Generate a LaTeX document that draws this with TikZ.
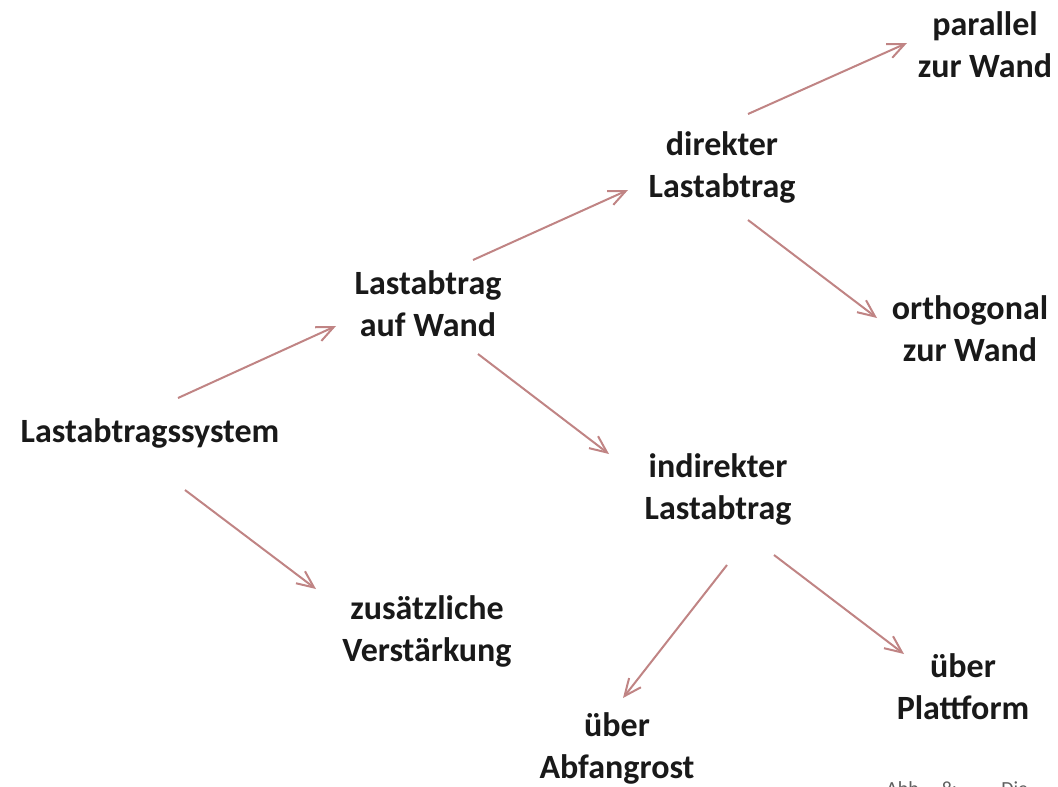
\documentclass[tikz,border=0pt]{standalone}
\usepackage{fontspec}
\setmainfont{Carlito}
\usetikzlibrary{arrows.meta}
\definecolor{arrcol}{RGB}{192,132,132}
\definecolor{capcol}{RGB}{95,95,95}
\tikzset{
  lbl/.style={font=\fontsize{34}{42}\selectfont\bfseries, align=center, inner sep=0pt, text=black!90},
  arr/.style={draw=arrcol, line width=2pt, -{Straight Barb[length=17pt,width=15pt,line width=2pt]}},
  captext/.style={font=\fontsize{20}{24}\selectfont, text=capcol, inner sep=0pt, anchor=north west}
}
\begin{document}
\begin{tikzpicture}[x=1pt,y=-1pt]
\useasboundingbox (0,0) rectangle (1058,787);
\clip (0,0) rectangle (1058,787);
\node[lbl] (sys) at (150,433) {Lastabtragssystem};
\node[lbl] (wand) at (428,304) {Lastabtrag\\auf Wand};
\node[lbl] (dir) at (722,167) {direkter\\Lastabtrag};
\node[lbl] (par) at (985,45) {parallel\\zur Wand};
\node[lbl] (orth) at (970,329) {orthogonal\\zur Wand};
\node[lbl] (ind) at (718,489) {indirekter\\Lastabtrag};
\node[lbl] (zus) at (427,631) {zusätzliche\\Verstärkung};
\node[lbl] (abf) at (617,748) {über\\Abfangrost};
\node[lbl] (plat) at (963,687) {über\\Plattform};
\node[captext] (caption) at (886,781) {Abb.\hspace{18pt}8:\hspace{44pt}Die};

\draw[arr] ([shift={(28,-35)}]sys.center) -- ([shift={(-92,22)}]wand.center);
\draw[arr] ([shift={(35,57)}]sys.center) -- ([shift={(-111,-42)}]zus.center);
\draw[arr] ([shift={(45,-44)}]wand.center) -- ([shift={(-94,23)}]dir.center);
\draw[arr] ([shift={(50,50)}]wand.center) -- ([shift={(-109,-35)}]ind.center);
\draw[arr] ([shift={(26,-53)}]dir.center) -- ([shift={(-78,-2)}]par.center);
\draw[arr] ([shift={(26,53)}]dir.center) -- ([shift={(-93,-11)}]orth.center);
\draw[arr] ([shift={(9,76)}]ind.center) -- ([shift={(6,-50)}]abf.center);
\draw[arr] ([shift={(56,66)}]ind.center) -- ([shift={(-59,-33)}]plat.center);
\end{tikzpicture}
\end{document}
